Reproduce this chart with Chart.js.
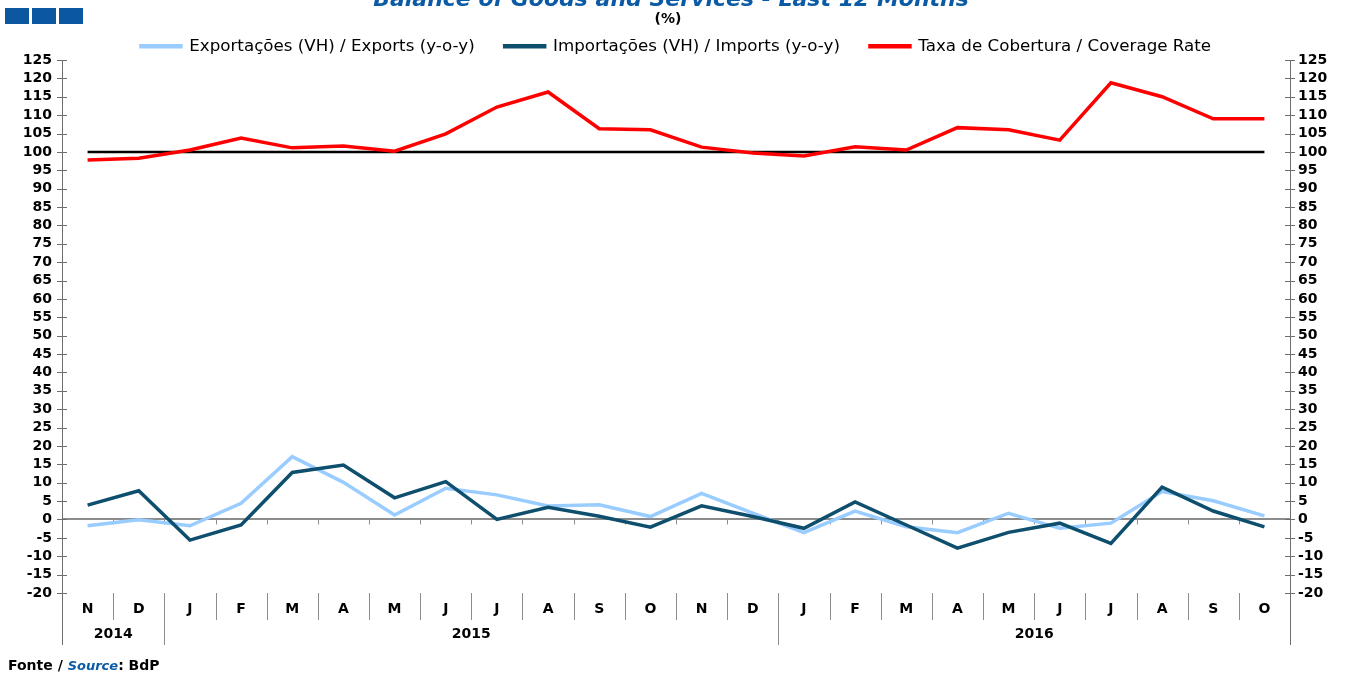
<!DOCTYPE html>
<html>
<head>
<meta charset="utf-8">
<script src="https://cdn.jsdelivr.net/npm/chart.js@4.4.1/dist/chart.umd.min.js"></script>
<style>
  body { margin: 0; background: #fff; }
  #wrap { position: relative; width: 1352px; height: 673px; overflow: hidden; }
  #wrap canvas { position: absolute; left: 0; top: 0; }
  .sq { position: absolute; top: 8px; width: 24px; height: 16px; background: #0b57a0; }
  #title { position: absolute; left: 0; width: 1342px; top: -12.5px; text-align: center;
    font: italic bold 22px/22px "DejaVu Sans"; color: #0b5aa6; }
  #unit { position: absolute; left: 0; width: 1336px; top: 10px; text-align: center;
    font: bold 14px/16px "DejaVu Sans"; color: #000; }
  #source { position: absolute; left: 8px; top: 657px; font: bold 14px/16px "DejaVu Sans"; color: #000; }
  #source i { color: #0b5aa6; font-size: 13px; }
</style>
</head>
<body>
<div id="wrap">
  <canvas id="chart" width="1352" height="673"></canvas>
  <div class="sq" style="left:5px"></div>
  <div class="sq" style="left:32px"></div>
  <div class="sq" style="left:59px"></div>
  <div id="title">Balance of Goods and Services - Last 12 Months</div>
  <div id="unit">(%)</div>
  <div id="source">Fonte / <i>Source</i>: BdP</div>
</div>
<script>
const months = ['N', 'D', 'J', 'F', 'M', 'A', 'M', 'J', 'J', 'A', 'S', 'O',
                'N', 'D', 'J', 'F', 'M', 'A', 'M', 'J', 'J', 'A', 'S', 'O']
const years = ['2014', '2015', '2016']
const yearSpans = [2, 12, 10]

const exportsYoy = [-1.7, -0.1, -1.7, 4.4, 17.1, 10.1, 1.2, 8.5, 6.7, 3.7, 4.0, 0.8,
                    7.1, 1.7, -3.6, 2.3, -2.0, -3.6, 1.7, -2.4, -1.0, 7.6, 5.1, 1.0]
const importsYoy = [3.9, 7.8, -5.6, -1.5, 12.8, 14.8, 5.9, 10.3, 0.0, 3.3, 0.9, -2.1,
                    3.7, 0.8, -2.4, 4.8, -1.5, -7.8, -3.5, -1.0, -6.5, 8.8, 2.3, -2.0]
const coverageRate = [97.8, 98.3, 100.5, 103.8, 101.1, 101.6, 100.2, 104.9, 112.2, 116.3, 106.3, 106.0,
                      101.3, 99.7, 98.9, 101.4, 100.5, 106.6, 106.0, 103.2, 118.8, 115.0, 109.0, 109.0]
const parity = [100, 100, 100, 100, 100, 100, 100, 100, 100, 100, 100, 100,
                100, 100, 100, 100, 100, 100, 100, 100, 100, 100, 100, 100]

const tickFont = { family: 'DejaVu Sans', size: 14, weight: 'bold' }
const axisGrey = '#6e6e6e'

// separators, year row, axis crosses
const decor = {
    id: 'decor',
    beforeDatasetsDraw(chart) {
        const { ctx, chartArea: a, scales: { x, y } } = chart
        const half = (x.getPixelForValue(1) - x.getPixelForValue(0)) / 2
        const zero = y.getPixelForValue(0)
        const yearStarts = []
        let s = 0
        yearSpans.forEach(n => { yearStarts.push(s); s += n })

        ctx.save()
        ctx.lineWidth = 1
        ctx.strokeStyle = axisGrey
        ctx.beginPath()
        ctx.moveTo(a.left + 0.5, a.bottom); ctx.lineTo(a.left + 0.5, 645)
        ctx.moveTo(a.right + 0.5, a.bottom); ctx.lineTo(a.right + 0.5, 645)
        y.ticks.forEach(t => {
            const py = Math.round(y.getPixelForValue(t.value)) + 0.5
            ctx.moveTo(a.left - 5, py); ctx.lineTo(a.left + 5, py)
            ctx.moveTo(a.right - 5, py); ctx.lineTo(a.right + 5, py)
        })
        ctx.stroke()

        ctx.strokeStyle = '#8c8c8c'
        ctx.beginPath()
        for (let i = 1; i < months.length; i++) {
            const px = Math.round(x.getPixelForValue(i) - half) + 0.5
            ctx.moveTo(px, a.bottom)
            ctx.lineTo(px, yearStarts.includes(i) ? 645 : 620)
            ctx.moveTo(px, zero)
            ctx.lineTo(px, zero + 5)
        }
        ctx.stroke()

        ctx.fillStyle = '#000'
        ctx.font = 'bold 14px "DejaVu Sans"'
        ctx.textAlign = 'center'
        ctx.textBaseline = 'middle'
        years.forEach((yr, k) => {
            const first = yearStarts[k]
            const last = first + yearSpans[k] - 1
            ctx.fillText(yr, (x.getPixelForValue(first) + x.getPixelForValue(last)) / 2, 634)
        })
        ctx.restore()
    }
}

function lineSet(label, data, color, width, order) {
    return {
        label: label,
        data: data,
        borderColor: color,
        backgroundColor: color,
        borderWidth: width,
        pointRadius: 0,
        tension: 0,
        order: order,
        yAxisID: 'y'
    }
}

new Chart(document.getElementById('chart').getContext('2d'), {
    type: 'line',
    data: {
        labels: months,
        datasets: [
            lineSet('Exportações (VH) / Exports (y-o-y)', exportsYoy, '#99ccff', 3.5, 3),
            lineSet('Importações (VH) / Imports (y-o-y)', importsYoy, '#0f4f6e', 3.5, 2),
            lineSet('Taxa de Cobertura / Coverage Rate', coverageRate, '#ff0000', 3.5, 0),
            lineSet('', parity, '#000000', 2.5, 1)
        ]
    },
    options: {
        responsive: false,
        animation: false,
        layout: { padding: { top: 8, bottom: 28, left: 0, right: 0 } },
        plugins: {
            legend: {
                position: 'top',
                maxHeight: 52,
                labels: {
                    filter: item => item.datasetIndex < 3,
                    sort: (a, b) => a.datasetIndex - b.datasetIndex,
                    boxWidth: 40,
                    boxHeight: 1,
                    padding: 30,
                    color: '#000',
                    font: { family: 'DejaVu Sans', size: 16.7 }
                }
            },
            tooltip: { enabled: false }
        },
        scales: {
            x: {
                offset: true,
                grid: { display: false, drawTicks: false },
                border: { display: false },
                ticks: { font: tickFont, color: '#000', padding: 8, maxRotation: 0, autoSkip: false },
                afterFit: s => { s.height = 52 }
            },
            y: {
                position: 'left',
                min: -20,
                max: 125,
                ticks: { stepSize: 5, autoSkip: false, font: tickFont, color: '#000', padding: 10 },
                grid: {
                    drawTicks: false,
                    lineWidth: 2,
                    color: c => c.tick && c.tick.value === 0 ? '#8c8c8c' : 'rgba(0,0,0,0)'
                },
                border: { color: axisGrey },
                afterFit: s => { s.width = 62 }
            },
            y1: {
                position: 'right',
                min: -20,
                max: 125,
                ticks: { stepSize: 5, autoSkip: false, font: tickFont, color: '#000', padding: 8 },
                grid: { display: false, drawTicks: false },
                border: { color: axisGrey },
                afterFit: s => { s.width = 62 }
            }
        }
    },
    plugins: [decor]
})
</script>
</body>
</html>
